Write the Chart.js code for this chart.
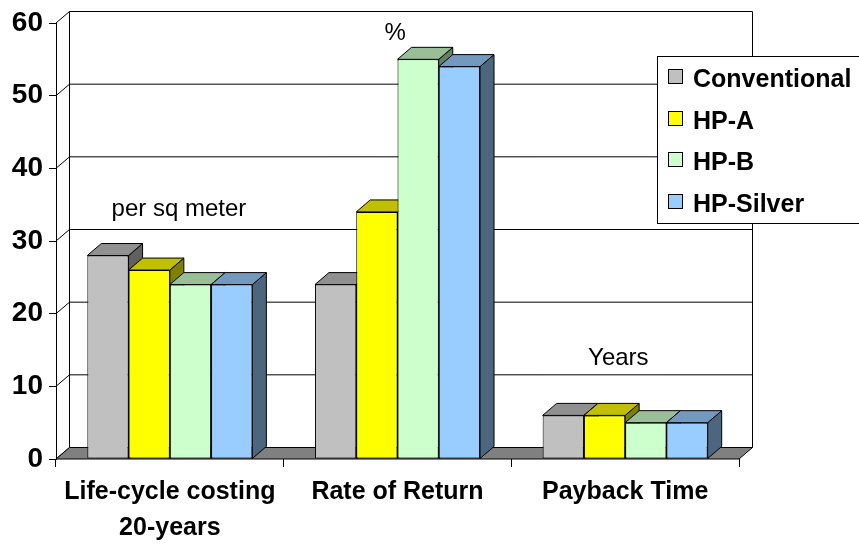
<!DOCTYPE html>
<html>
<head>
<meta charset="utf-8">
<title>Cost and return comparison</title>
<script src="https://cdn.jsdelivr.net/npm/chart.js@4.4.1/dist/chart.umd.min.js"></script>
<style>
  html, body { margin: 0; padding: 0; background: #ffffff; }
  canvas { display: block; }
</style>
</head>
<body>
<canvas id="chart" width="859" height="545"></canvas>
<script>
// ---- data ----
const categories = [['Life-cycle costing', '20-years'], 'Rate of Return', 'Payback Time'];
const seriesNames = ['Conventional', 'HP-A', 'HP-B', 'HP-Silver'];
const conventional = [28, 24, 6];
const hpA = [26, 34, 6];
const hpB = [24, 55, 5];
const hpSilver = [24, 54, 5];
const yMin = 0;
const yMax = 60;
const yStep = 10;
const unitNotes = ['per sq meter', '%', 'Years'];

// ---- styling ----
const FONT = '"Liberation Sans", Arial, Helvetica, sans-serif';
const seriesValues = [conventional, hpA, hpB, hpSilver];
const faceFront = ['#C0C0C0', '#FFFF00', '#CCFFCC', '#99CCFF'];
const faceTop   = ['#909090', '#C0C000', '#99BF99', '#7399BF'];
const faceSide  = ['#606060', '#808000', '#668066', '#4D6680'];
const barDepth = { dx: 14, dy: 12 };
const wallDepth = { dx: 13.5, dy: 11.5 };
// where each unit note sits: x in category units, y in value units (baseline)
const notePlacement = [
  { x: 0.04, y: 33.4 },
  { x: 0.99, y: 57.7 },
  { x: 1.97, y: 12.9 }
];

Chart.defaults.font.family = FONT;
Chart.defaults.color = '#000';

function poly(ctx, pts, fill) {
  ctx.beginPath();
  ctx.moveTo(pts[0][0], pts[0][1]);
  for (let i = 1; i < pts.length; i++) ctx.lineTo(pts[i][0], pts[i][1]);
  ctx.closePath();
  if (fill) { ctx.fillStyle = fill; ctx.fill(); }
  ctx.stroke();
}

// back wall, side wall and floor of the 3D box
const wallsPlugin = {
  id: 'walls',
  beforeDatasetsDraw(chart) {
    const { ctx, chartArea: a, scales: { y } } = chart;
    const { dx, dy } = wallDepth;
    ctx.save();
    ctx.strokeStyle = '#000';
    ctx.lineWidth = 1;
    // gridlines on the back wall and their diagonals on the side wall
    for (let v = yMin; v <= yMax; v += yStep) {
      const py = y.getPixelForValue(v);
      ctx.beginPath();
      ctx.moveTo(a.left, py);
      ctx.lineTo(a.left + dx, py - dy);
      if (v > yMin) ctx.lineTo(a.right + dx, py - dy);
      ctx.stroke();
    }
    // back wall vertical edges
    ctx.beginPath();
    ctx.moveTo(a.left + dx, a.top - dy);
    ctx.lineTo(a.left + dx, a.bottom - dy);
    ctx.moveTo(a.right + dx, a.top - dy);
    ctx.lineTo(a.right + dx, a.bottom - dy);
    ctx.stroke();
    // floor
    poly(ctx, [
      [a.left, a.bottom], [a.right, a.bottom],
      [a.right + dx, a.bottom - dy], [a.left + dx, a.bottom - dy]
    ], '#808080');
    ctx.restore();
  }
};

// Columns are painted here, series by series from left to right, so that
// each column's front face hides the side face of its left neighbour.
const columnsPlugin = {
  id: 'columns3d',
  beforeDatasetDraw() {
    return false; // default flat drawing replaced below
  },
  afterDatasetsDraw(chart) {
    const { ctx } = chart;
    const { dx, dy } = barDepth;
    ctx.save();
    ctx.strokeStyle = '#000';
    ctx.lineWidth = 1;
    chart.data.datasets.forEach((ds, i) => {
      const meta = chart.getDatasetMeta(i);
      meta.data.forEach(el => {
        const p = el.getProps(['x', 'y', 'base', 'width'], true);
        const l = p.x - p.width / 2, r = p.x + p.width / 2;
        const t = p.y, b = p.base;
        poly(ctx, [[r, t], [r + dx, t - dy], [r + dx, b - dy], [r, b]], faceSide[i]);
        poly(ctx, [[l, t], [r, t], [r + dx, t - dy], [l + dx, t - dy]], faceTop[i]);
        el.draw(ctx, chart.chartArea);
      });
    });
    ctx.restore();

    // unit notes above each group
    const { x, y } = chart.scales;
    ctx.save();
    ctx.font = '24px ' + FONT;
    ctx.fillStyle = '#000';
    ctx.textAlign = 'center';
    ctx.textBaseline = 'alphabetic';
    unitNotes.forEach((txt, k) => {
      ctx.fillText(txt, x.getPixelForValue(notePlacement[k].x), y.getPixelForValue(notePlacement[k].y));
    });
    ctx.restore();
  }
};

// boxed legend laid over the upper right of the plot
const boxLegendPlugin = {
  id: 'boxLegend',
  afterDraw(chart) {
    const { ctx } = chart;
    const boxX = 657.5, boxY = 56.5, boxW = 230, boxH = 167;
    ctx.save();
    ctx.fillStyle = '#fff';
    ctx.strokeStyle = '#000';
    ctx.lineWidth = 1;
    ctx.fillRect(boxX, boxY, boxW, boxH);
    ctx.strokeRect(boxX, boxY, boxW, boxH);
    ctx.font = 'bold 25px ' + FONT;
    ctx.textAlign = 'left';
    ctx.textBaseline = 'alphabetic';
    chart.data.datasets.forEach((ds, k) => {
      const rowY = Math.round(69 + k * 41.5) + 0.5;
      ctx.fillStyle = ds.backgroundColor;
      ctx.fillRect(668.5, rowY, 14, 14);
      ctx.strokeRect(668.5, rowY, 14, 14);
      ctx.fillStyle = '#000';
      ctx.fillText(ds.label, 693, 87 + k * 41.5);
    });
    ctx.restore();
  }
};

new Chart(document.getElementById('chart'), {
  type: 'bar',
  data: {
    labels: categories,
    datasets: seriesNames.map((name, i) => ({
      label: name,
      data: seriesValues[i],
      backgroundColor: faceFront[i],
      borderColor: '#000',
      borderWidth: 1,
      borderSkipped: false,
      categoryPercentage: 0.725,
      barPercentage: 1.0
    }))
  },
  options: {
    responsive: false,
    animation: false,
    devicePixelRatio: 1,
    layout: { padding: { top: 23, right: 120, left: 0, bottom: 0 } },
    plugins: {
      legend: { display: false },
      tooltip: { enabled: false }
    },
    scales: {
      x: {
        grid: { drawOnChartArea: false, drawTicks: true, tickLength: 8, color: '#000', offset: true },
        border: { display: false },
        ticks: {
          font: { size: 25, weight: 'bold', lineHeight: 1.44 },
          color: '#000',
          padding: 7,
          maxRotation: 0,
          autoSkip: false
        },
        afterFit(s) { s.height = 86; }
      },
      y: {
        min: yMin,
        max: yMax,
        ticks: {
          stepSize: yStep,
          font: { size: 28, weight: 'bold' },
          color: '#000',
          padding: 6
        },
        grid: { drawOnChartArea: false, tickLength: 7, color: '#000' },
        border: { display: true, color: '#000' },
        afterFit(s) { s.width = 56; }
      }
    }
  },
  plugins: [wallsPlugin, columnsPlugin, boxLegendPlugin]
});
</script>
</body>
</html>
